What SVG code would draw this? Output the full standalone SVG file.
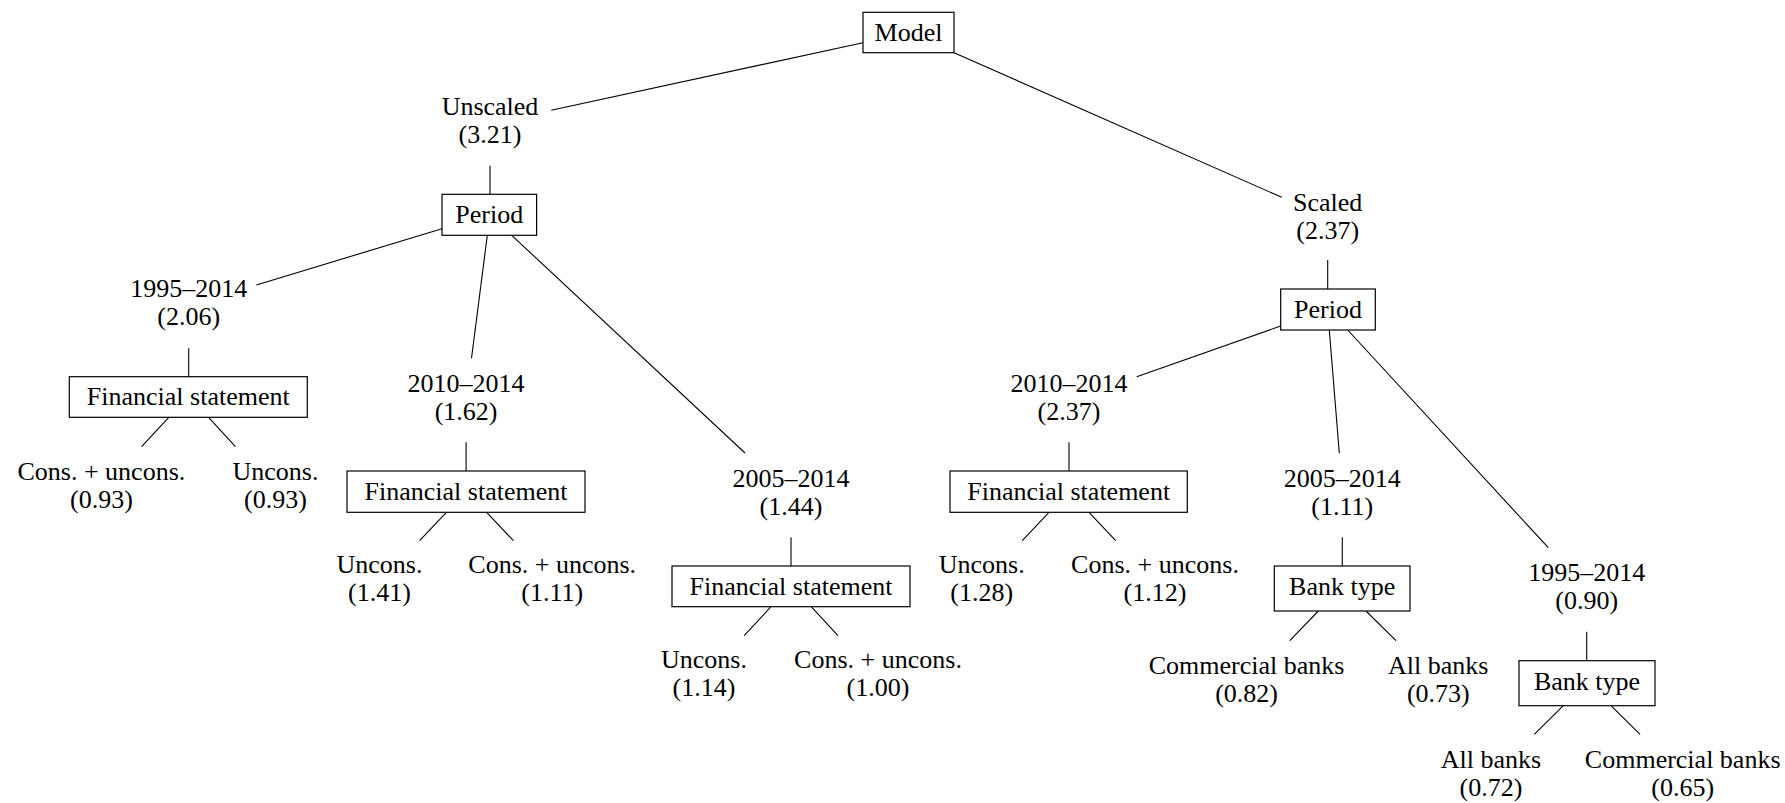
<svg xmlns="http://www.w3.org/2000/svg" width="1785" height="803" viewBox="0 0 1785 803">
<style>
text{font-family:"Liberation Serif","Times New Roman",serif;font-size:26px;fill:#000;text-anchor:middle}
rect{fill:#fff;stroke:#000;stroke-width:1.2}
#edges line{stroke:#000;stroke-width:1.1}
</style>
<rect x="0" y="0" width="1785" height="803" style="fill:#fff;stroke:none"/>
<g id="edges">
<line x1="863" y1="42.7" x2="551.2" y2="110.3"/>
<line x1="954" y1="52.7" x2="1281.7" y2="197.3"/>
<line x1="490" y1="165.7" x2="490" y2="194.3"/>
<line x1="442" y1="228.7" x2="256.4" y2="285"/>
<line x1="487.3" y1="235.3" x2="471.5" y2="358.3"/>
<line x1="511.7" y1="235.3" x2="745" y2="453"/>
<line x1="188.7" y1="348.3" x2="188.7" y2="376.7"/>
<line x1="168.8" y1="417.3" x2="141.6" y2="446.7"/>
<line x1="208.6" y1="417.3" x2="235.4" y2="446.7"/>
<line x1="466.1" y1="442.3" x2="466.1" y2="471"/>
<line x1="446.4" y1="512.3" x2="419.6" y2="540.7"/>
<line x1="486.6" y1="512.3" x2="513.4" y2="540.7"/>
<line x1="791" y1="537.3" x2="791" y2="566"/>
<line x1="771" y1="606.7" x2="744.2" y2="635.7"/>
<line x1="811.2" y1="606.7" x2="838" y2="635.7"/>
<line x1="1327.7" y1="260" x2="1327.7" y2="289"/>
<line x1="1280.7" y1="326" x2="1136.7" y2="376.7"/>
<line x1="1329.3" y1="330" x2="1339.3" y2="453.3"/>
<line x1="1347.7" y1="330" x2="1548.3" y2="547.7"/>
<line x1="1069" y1="442.3" x2="1069" y2="471"/>
<line x1="1049" y1="512.3" x2="1022.3" y2="540.7"/>
<line x1="1089" y1="512.3" x2="1115.7" y2="540.7"/>
<line x1="1342.3" y1="537.3" x2="1342.3" y2="566"/>
<line x1="1318.3" y1="611" x2="1289.8" y2="640.7"/>
<line x1="1366" y1="611" x2="1396" y2="640.7"/>
<line x1="1586.7" y1="631.7" x2="1586.7" y2="660.7"/>
<line x1="1563.3" y1="705.7" x2="1534.3" y2="734.3"/>
<line x1="1611" y1="705.7" x2="1640" y2="734.3"/>
</g>
<g id="model"><rect x="863" y="12.3" width="91" height="40.4"/><text x="908.5" y="41">Model</text></g>
<g id="unscaled"><text x="490" y="115">Unscaled</text><text x="490" y="143">(3.21)</text></g>
<g id="period-l"><rect x="442" y="194.3" width="94.6" height="41"/><text x="489.3" y="223">Period</text></g>
<g id="l1995"><text x="188.7" y="296.7">1995–2014</text><text x="188.7" y="324.7">(2.06)</text></g>
<g id="fs1"><rect x="69.3" y="376.7" width="238" height="40.6"/><text x="188.3" y="405.3">Financial statement</text></g>
<g id="leaf1"><text x="101.4" y="480">Cons. + uncons.</text><text x="101.4" y="508">(0.93)</text></g>
<g id="leaf2"><text x="275.5" y="480">Uncons.</text><text x="275.5" y="508">(0.93)</text></g>
<g id="l2010"><text x="466.1" y="391.7">2010–2014</text><text x="466.1" y="419.7">(1.62)</text></g>
<g id="fs2"><rect x="347" y="471" width="238" height="41.3"/><text x="466" y="499.6">Financial statement</text></g>
<g id="leaf3"><text x="379.5" y="573.3">Uncons.</text><text x="379.5" y="601.3">(1.41)</text></g>
<g id="leaf4"><text x="552.2" y="573.3">Cons. + uncons.</text><text x="552.2" y="601.3">(1.11)</text></g>
<g id="l2005"><text x="791" y="486.7">2005–2014</text><text x="791" y="514.7">(1.44)</text></g>
<g id="fs3"><rect x="672" y="566" width="238" height="40.7"/><text x="791" y="594.7">Financial statement</text></g>
<g id="leaf5"><text x="704" y="668.3">Uncons.</text><text x="704" y="696.3">(1.14)</text></g>
<g id="leaf6"><text x="878" y="668.3">Cons. + uncons.</text><text x="878" y="696.3">(1.00)</text></g>
<g id="scaled"><text x="1327.7" y="210.7">Scaled</text><text x="1327.7" y="238.7">(2.37)</text></g>
<g id="period-r"><rect x="1280.7" y="289" width="94.6" height="41"/><text x="1328" y="317.7">Period</text></g>
<g id="r2010"><text x="1069" y="392.3">2010–2014</text><text x="1069" y="420.3">(2.37)</text></g>
<g id="fs4"><rect x="950" y="471" width="237.3" height="41.3"/><text x="1068.7" y="499.6">Financial statement</text></g>
<g id="leaf7"><text x="981.7" y="573.3">Uncons.</text><text x="981.7" y="601.3">(1.28)</text></g>
<g id="leaf8"><text x="1155" y="573.3">Cons. + uncons.</text><text x="1155" y="601.3">(1.12)</text></g>
<g id="r2005"><text x="1342.3" y="486.7">2005–2014</text><text x="1342.3" y="514.7">(1.11)</text></g>
<g id="bt1"><rect x="1274.3" y="566" width="135.7" height="45"/><text x="1342.2" y="595">Bank type</text></g>
<g id="leaf9"><text x="1246.6" y="673.5">Commercial banks</text><text x="1246.6" y="701.5">(0.82)</text></g>
<g id="leaf10"><text x="1438.3" y="673.5">All banks</text><text x="1438.3" y="701.5">(0.73)</text></g>
<g id="r1995"><text x="1586.7" y="581">1995–2014</text><text x="1586.7" y="609">(0.90)</text></g>
<g id="bt2"><rect x="1519" y="660.7" width="136" height="45"/><text x="1587" y="689.5">Bank type</text></g>
<g id="leaf11"><text x="1491" y="768.3">All banks</text><text x="1491" y="796.3">(0.72)</text></g>
<g id="leaf12"><text x="1682.7" y="768.3">Commercial banks</text><text x="1682.7" y="796.3">(0.65)</text></g>
</svg>
